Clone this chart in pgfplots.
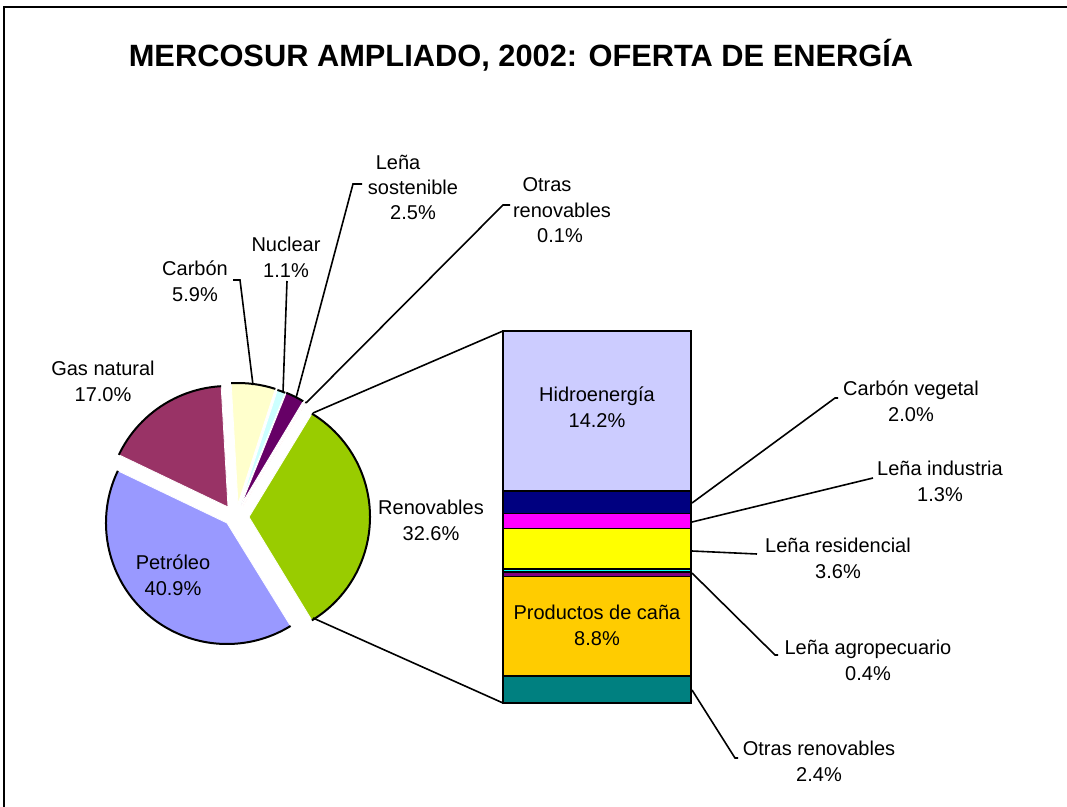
\documentclass[border=0pt]{standalone}
\usepackage{pgfplots}
\pgfplotsset{compat=1.18}
\usepackage{fontspec}
\setmainfont{Liberation Sans}
\definecolor{cPetro}{HTML}{9999FF}
\definecolor{cGas}{HTML}{993366}
\definecolor{cCarbon}{HTML}{FFFFCC}
\definecolor{cNuclear}{HTML}{CCFFFF}
\definecolor{cLena}{HTML}{660066}
\definecolor{cOtras}{HTML}{FF8080}
\definecolor{cRenov}{HTML}{99CC00}
\definecolor{bHidro}{HTML}{CCCCFF}
\definecolor{bCV}{HTML}{000080}
\definecolor{bLI}{HTML}{FF00FF}
\definecolor{bLR}{HTML}{FFFF00}
\definecolor{bCy}{HTML}{00FFFF}
\definecolor{bLA}{HTML}{800080}
\definecolor{bCana}{HTML}{FFCC00}
\definecolor{bOtras}{HTML}{008080}
\newcommand{\slice}[5]{%
  \fill[#5, draw=white, line width=0.4bp] (axis cs:#1,#2) -- ++({#3}:60.5bp) arc[start angle={#3}, delta angle={#4}, radius=60.5bp] -- cycle;
  \draw[black, line width=1bp] (axis cs:#1,#2) ++({#3}:60.5bp) arc[start angle={#3}, delta angle={#4}, radius=60.5bp];
}
\begin{document}
\begin{tikzpicture}[every node/.style={font=\fontsize{10bp}{13bp}\selectfont, align=center, inner sep=0pt}]
\begin{axis}[name=canvas, scale only axis, width=533.5bp, height=403.5bp,
  xmin=0, xmax=1067, ymin=0, ymax=807, y dir=reverse, hide axis, clip=false]
% frame
\draw[line width=1bp] (axis cs:4,807) -- (axis cs:4,7) -- (axis cs:1067,7);
% title
\node[font=\fontsize{15.4bp}{18bp}\selectfont\bfseries] at (axis cs:521,55) {MERCOSUR AMPLIADO, 2002: OFERTA DE ENERGÍA};
% pie slices (values in %)
\slice{249}{517}{-1.8*32.6}{3.6*32.6}{cRenov}
\slice{243}{506}{1.8*32.6}{3.6*0.1}{cOtras}
\slice{241}{505}{1.8*32.6+3.6*0.1}{3.6*2.5}{cLena}
\slice{240}{505}{1.8*32.6+3.6*2.6}{3.6*1.1}{cNuclear}
\slice{238}{504}{1.8*32.6+3.6*3.7}{3.6*5.9}{cCarbon}
\slice{228}{507}{1.8*32.6+3.6*9.6}{3.6*17.0}{cGas}
\slice{227}{523}{1.8*32.6+3.6*26.6}{3.6*40.9}{cPetro}
% pie labels
\node at (axis cs:173,575) {Petróleo\\40.9\%};
\node at (axis cs:103,381) {Gas natural\\17.0\%};
\node at (axis cs:195,281) {Carbón\\5.9\%};
\node at (axis cs:286,257) {Nuclear\\1.1\%};
\node at (axis cs:398,162) {Leña};
\node at (axis cs:413,187) {sostenible};
\node at (axis cs:413,213) {2.5\%};
\node at (axis cs:547,185) {Otras};
\node at (axis cs:562,210) {renovables};
\node at (axis cs:560,236) {0.1\%};
\node at (axis cs:431,520) {Renovables\\32.6\%};
% pie leader lines
\draw[line width=0.8bp] (axis cs:253,385) -- (axis cs:240,280) -- (axis cs:233,280);
\draw[line width=0.8bp] (axis cs:283,392) -- (axis cs:287,281);
\draw[line width=0.8bp] (axis cs:296,398) -- (axis cs:353,184) -- (axis cs:362,184);
\draw[line width=0.8bp] (axis cs:306,403) -- (axis cs:503,205) -- (axis cs:510,205);
% connectors pie -> bar
\draw[line width=0.8bp] (axis cs:313,413) -- (axis cs:503,331);
\draw[line width=0.8bp] (axis cs:313,618) -- (axis cs:503,703);
% bar leader lines and labels
\draw[line width=0.8bp] (axis cs:692,503) -- (axis cs:835,398) -- (axis cs:838,398);
\draw[line width=0.8bp] (axis cs:692,522) -- (axis cs:873,478);
\draw[line width=0.8bp] (axis cs:692,551) -- (axis cs:757,554);
\draw[line width=0.8bp] (axis cs:692,573) -- (axis cs:775,655) -- (axis cs:778,655);
\draw[line width=0.8bp] (axis cs:692,690) -- (axis cs:735,758) -- (axis cs:738,758);
\node at (axis cs:911,401) {Carbón vegetal\\2.0\%};
\node at (axis cs:940,481) {Leña industria\\1.3\%};
\node at (axis cs:838,558) {Leña residencial\\3.6\%};
\node at (axis cs:868,660) {Leña agropecuario\\0.4\%};
\node at (axis cs:819,761) {Otras renovables\\2.4\%};
\coordinate (barSW) at (axis cs:503,703);
\end{axis}
\begin{axis}[at={(barSW)}, anchor=south west, scale only axis, width=94bp, height=186bp,
  xmin=-0.5, xmax=0.5, ymin=0, ymax=33.0, hide axis, ybar stacked, bar width=94bp, clip=false]
\addplot[fill=bOtras, draw=black, line width=0.75bp] coordinates {(0,2.4)};
\addplot[fill=bCana, draw=black, line width=0.75bp] coordinates {(0,8.8)};
\addplot[fill=bLA, draw=black, line width=0.75bp] coordinates {(0,0.4)};
\addplot[fill=bCy, draw=black, line width=0.75bp] coordinates {(0,0.3)};
\addplot[fill=bLR, draw=black, line width=0.75bp] coordinates {(0,3.6)};
\addplot[fill=bLI, draw=black, line width=0.75bp] coordinates {(0,1.3)};
\addplot[fill=bCV, draw=black, line width=0.75bp] coordinates {(0,2.0)};
\addplot[fill=bHidro, draw=black, line width=0.75bp] coordinates {(0,14.2)};
\draw[line width=1.1bp] (axis cs:-0.5,0) rectangle (axis cs:0.5,33.0);
\coordinate (hidroL) at (axis cs:0,26.2);
\coordinate (canaL) at (axis cs:0,6.9);
\end{axis}
\node at (hidroL) {Hidroenergía\\14.2\%};
\node at (canaL) {Productos de caña\\8.8\%};
\pgfresetboundingbox
\path (canvas.south west) rectangle (canvas.north east);
\end{tikzpicture}
\end{document}
